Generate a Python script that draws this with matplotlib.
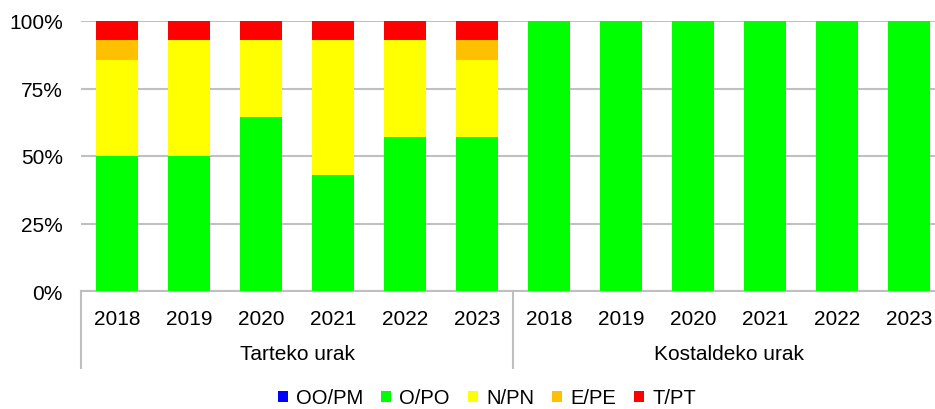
import matplotlib
matplotlib.use("Agg")
import matplotlib.pyplot as plt
from matplotlib.patches import Patch
import numpy as np

plt.rcParams['font.family'] = ['Liberation Sans', 'DejaVu Sans']

# Egoera klaseen ehunekoak, urtez urte (Tarteko urak, gero Kostaldeko urak)
years = ['2018', '2019', '2020', '2021', '2022', '2023']
groups = ['Tarteko urak', 'Kostaldeko urak']
oo_pm = [0, 0, 0, 0, 0, 0, 0, 0, 0, 0, 0, 0]
o_po = [50.0, 50.0, 64.3, 42.9, 57.1, 57.1, 100, 100, 100, 100, 100, 100]
n_pn = [35.7, 42.9, 28.6, 50.0, 35.7, 28.6, 0, 0, 0, 0, 0, 0]
e_pe = [7.1, 0, 0, 0, 0, 7.1, 0, 0, 0, 0, 0, 0]
t_pt = [7.2, 7.1, 7.1, 7.1, 7.2, 7.2, 0, 0, 0, 0, 0, 0]

series = [
    ('OO/PM', oo_pm, '#0000FF'),
    ('O/PO', o_po, '#00FF00'),
    ('N/PN', n_pn, '#FFFF00'),
    ('E/PE', e_pe, '#FFC000'),
    ('T/PT', t_pt, '#FF0000'),
]

fig = plt.figure(figsize=(9.35, 4.1), dpi=100)
ax = fig.add_axes([81 / 935, 118 / 410, 864 / 935, 270 / 410])

x = np.arange(len(years) * len(groups))
bottom = np.zeros(len(x))
for name, vals, color in series:
    vals = np.array(vals, dtype=float)
    ax.bar(x, vals, width=0.57, bottom=bottom, color=color, zorder=3)
    bottom += vals

ax.set_xlim(-0.5, len(x) - 0.5)
ax.set_ylim(0, 100)
ax.set_yticks([0, 25, 50, 75, 100])
ax.set_yticklabels(['0%', '25%', '50%', '75%', '100%'])
ax.yaxis.grid(True, color='#C0C0C0', linewidth=1.5, zorder=0)
ax.set_xticks(x)
ax.set_xticklabels(years * len(groups))
ax.tick_params(axis='both', length=0, labelsize=15, colors='black')
ax.tick_params(axis='y', pad=13)
ax.tick_params(axis='x', pad=13)

for side in ['left', 'right', 'top']:
    ax.spines[side].set_visible(False)
ax.spines['bottom'].set_color('#BFBFBF')
ax.spines['bottom'].set_linewidth(1.5)

# group separators and group labels under the year ticks
tr = ax.get_xaxis_transform()
n = len(years)
for i in range(len(groups) + 1):
    xs = i * n - 0.5
    ax.plot([xs, xs], [0, -0.285], transform=tr, color='#BFBFBF',
            linewidth=1.5, clip_on=False)
for i, g in enumerate(groups):
    ax.text(i * n + (n - 1) / 2, -0.232, g, transform=tr, ha='center',
            va='center', fontsize=15)

handles = [Patch(facecolor=c, label=nm) for nm, _, c in series]
fig.legend(handles=handles, loc='center', bbox_to_anchor=(487 / 935, 11 / 410),
           ncol=5, frameon=False, fontsize=14.5, handlelength=0.5,
           handleheight=0.5, handletextpad=0.4, columnspacing=0.9,
           borderpad=0.2)

fig.savefig('out.png', dpi=100)
